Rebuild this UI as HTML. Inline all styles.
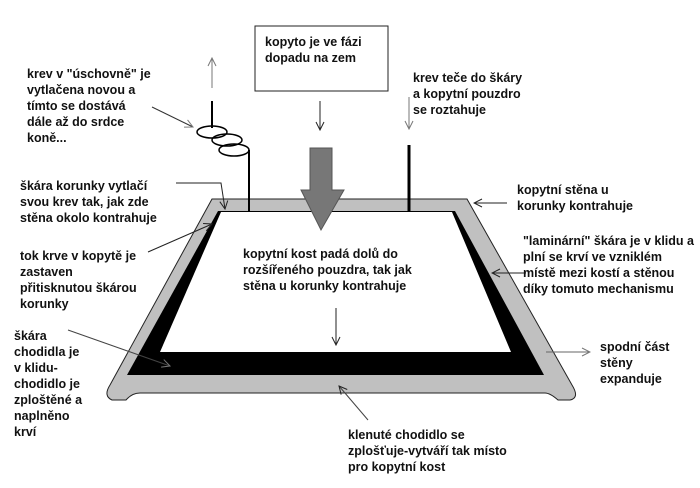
<!DOCTYPE html>
<html><head><meta charset="utf-8"><style>
html,body{margin:0;padding:0;background:#fff;}
svg text{font-family:"Liberation Sans",Arial,sans-serif;font-weight:bold;font-size:12.5px;fill:#111;}
</style></head><body>
<svg width="700" height="483" viewBox="0 0 700 483" xmlns="http://www.w3.org/2000/svg">
<defs>
<marker id="a" markerWidth="10" markerHeight="10" refX="9" refY="5" orient="auto" markerUnits="userSpaceOnUse"><path d="M1,1 L9,5 L1,9" fill="none" stroke="#222" stroke-width="1"/></marker>
<marker id="g" markerWidth="10" markerHeight="10" refX="9" refY="5" orient="auto" markerUnits="userSpaceOnUse"><path d="M1,1 L9,5 L1,9" fill="none" stroke="#777" stroke-width="1"/></marker>
</defs>
<!-- hoof body -->
<path d="M212,199 L467,199 L572,385 Q580,398 570,400 L558,400 Q550,393 545,393 L140,393 Q132,393 126,400 L112,400 Q103,396 110,385 Z" fill="#c0c0c0" stroke="#222" stroke-width="1"/>
<path d="M218,211 L455,211 L544,375 L127,375 Z" fill="#000"/>
<path d="M221,212 L452,212 L511,352 L160,352 Z" fill="#fff"/>
<!-- vertical tubes -->
<line x1="249" y1="150" x2="249" y2="211" stroke="#000" stroke-width="2"/>
<line x1="409" y1="145" x2="409" y2="211" stroke="#000" stroke-width="3"/>
<line x1="212" y1="101" x2="212" y2="128" stroke="#000" stroke-width="2"/>
<ellipse cx="212" cy="132" rx="15" ry="6" fill="none" stroke="#000" stroke-width="1.5"/>
<ellipse cx="227" cy="140" rx="15" ry="6" fill="none" stroke="#000" stroke-width="1.5"/>
<ellipse cx="234" cy="150" rx="15" ry="6" fill="none" stroke="#000" stroke-width="1.5"/>
<!-- big arrow -->
<path d="M310,148 L332,148 L332,190 L344,190 L321,230 L301,190 L310,190 Z" fill="#777" stroke="#555"/>
<!-- box -->
<rect x="255" y="26" width="133" height="65" fill="#fff" stroke="#222" stroke-width="1"/>
<text x="265" y="46">kopyto je ve fázi</text>
<text x="265" y="62">dopadu na zem</text>
<!-- arrows -->
<line x1="212" y1="88" x2="212" y2="58" stroke="#777" marker-end="url(#g)"/>
<line x1="320" y1="101" x2="320" y2="130" stroke="#222" marker-end="url(#a)"/>
<line x1="409" y1="97" x2="409" y2="129" stroke="#777" marker-end="url(#g)"/>
<line x1="152" y1="107" x2="193" y2="127" stroke="#333" marker-end="url(#g)"/>
<polyline points="176,183 221,183 225,209" fill="none" stroke="#222" marker-end="url(#a)"/>
<line x1="148" y1="252" x2="212" y2="224" stroke="#222" marker-end="url(#a)"/>
<line x1="68" y1="330" x2="170" y2="366" stroke="#444" marker-end="url(#g)"/>
<line x1="507" y1="203" x2="474" y2="203" stroke="#222" marker-end="url(#a)"/>
<line x1="526" y1="273" x2="492" y2="273" stroke="#222" marker-end="url(#a)"/>
<line x1="546" y1="352" x2="590" y2="352" stroke="#666" marker-end="url(#g)"/>
<line x1="368" y1="420" x2="339" y2="386" stroke="#444" marker-end="url(#a)"/>
<line x1="336" y1="308" x2="336" y2="345" stroke="#222" marker-end="url(#a)"/>
<!-- labels -->
<text x="27" y="78">krev v "úschovně" je</text>
<text x="27" y="94">vytlačena novou a</text>
<text x="27" y="110">tímto se dostává</text>
<text x="27" y="126">dále až do srdce</text>
<text x="27" y="142">koně...</text>
<text x="413" y="82">krev teče do škáry</text>
<text x="413" y="98">a kopytní pouzdro</text>
<text x="413" y="114">se roztahuje</text>
<text x="20" y="190">škára korunky vytlačí</text>
<text x="20" y="206">svou krev tak, jak zde</text>
<text x="20" y="222">stěna okolo kontrahuje</text>
<text x="517" y="194">kopytní stěna u</text>
<text x="517" y="210">korunky kontrahuje</text>
<text x="20" y="260">tok krve v kopytě je</text>
<text x="20" y="276">zastaven</text>
<text x="20" y="292">přitisknutou škárou</text>
<text x="20" y="308">korunky</text>
<text x="523" y="245">"laminární" škára je v klidu a</text>
<text x="523" y="261">plní se krví ve vzniklém</text>
<text x="523" y="277">místě mezi kostí a stěnou</text>
<text x="523" y="293">díky tomuto mechanismu</text>
<text x="243" y="258">kopytní kost padá dolů do</text>
<text x="243" y="274">rozšířeného pouzdra, tak jak</text>
<text x="243" y="290">stěna u korunky kontrahuje</text>
<text x="14" y="340">škára</text>
<text x="14" y="356">chodidla je</text>
<text x="14" y="372">v klidu-</text>
<text x="14" y="388">chodidlo je</text>
<text x="14" y="404">zploštěné a</text>
<text x="14" y="420">naplněno</text>
<text x="14" y="436">krví</text>
<text x="600" y="351">spodní část</text>
<text x="600" y="367">stěny</text>
<text x="600" y="383">expanduje</text>
<text x="348" y="439">klenuté chodidlo se</text>
<text x="348" y="455">zplošťuje-vytváří tak místo</text>
<text x="348" y="471">pro kopytní kost</text>
</svg>
</body></html>
